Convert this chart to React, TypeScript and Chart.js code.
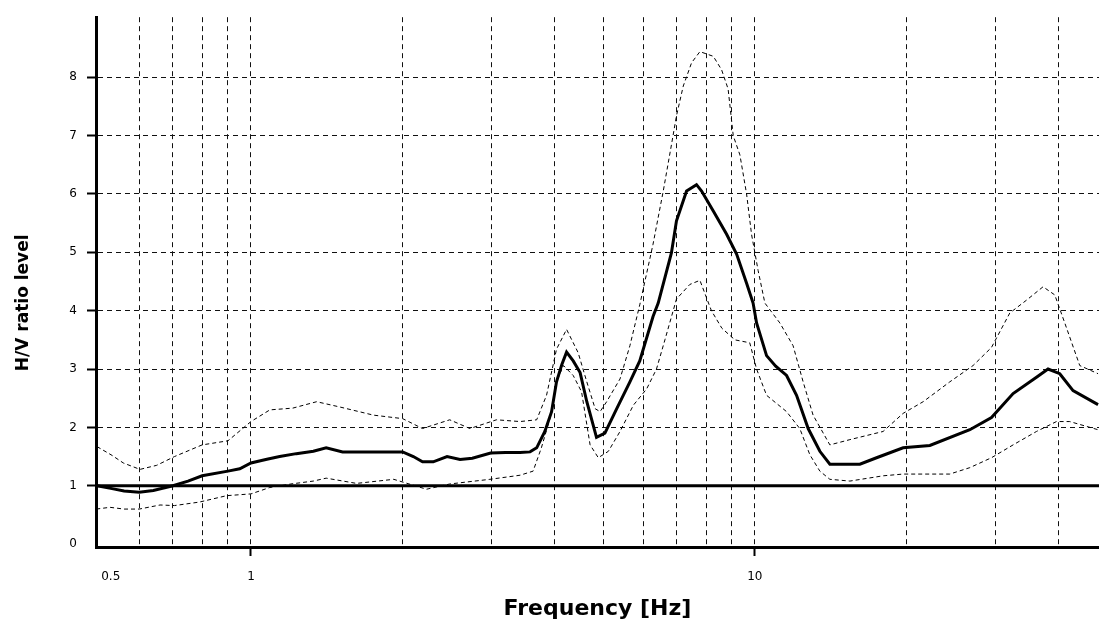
import { useEffect, useRef } from 'react';
import { Chart, registerables } from 'chart.js';

Chart.register(...registerables);

// Axis ranges
const X_MIN = 0.4925;
const X_MAX = 48.2;
const Y_MIN = -0.05;
const Y_MAX = 9.03;
const REF_LEVEL = 1;

// Tick / grid positions
const X_GRID_TICKS = [0.5, 0.6, 0.7, 0.8, 0.9, 1, 2, 3, 4, 5, 6, 7, 8, 9, 10, 20, 30, 40];
const X_LABELED = [0.5, 1, 10];
const Y_TICKS = [0, 1, 2, 3, 4, 5, 6, 7, 8];

// Average H/V curve
const meanFreq = [0.495, 0.53, 0.56, 0.60, 0.64, 0.70, 0.75, 0.80, 0.90, 0.95, 1.0, 1.07, 1.14, 1.23, 1.33, 1.41, 1.52, 1.75, 2.0, 2.10, 2.19, 2.30, 2.45, 2.60, 2.75, 2.99, 3.20, 3.42, 3.58, 3.69, 3.83, 3.95, 4.04, 4.14, 4.23, 4.36, 4.50, 4.64, 4.85, 5.04, 5.32, 5.65, 5.91, 6.28, 6.43, 6.83, 6.99, 7.32, 7.66, 7.84, 8.27, 8.79, 9.20, 9.63, 9.92, 10.08, 10.55, 11.0, 11.56, 12.10, 12.76, 13.46, 14.09, 16.16, 17.44, 19.69, 22.25, 26.71, 29.49, 32.55, 36.22, 38.19, 40.29, 42.81, 47.99];
const meanHV = [1.0, 0.95, 0.91, 0.89, 0.92, 1.0, 1.08, 1.17, 1.25, 1.29, 1.39, 1.45, 1.50, 1.55, 1.59, 1.65, 1.58, 1.58, 1.58, 1.50, 1.41, 1.41, 1.50, 1.45, 1.47, 1.56, 1.57, 1.57, 1.58, 1.65, 1.93, 2.27, 2.78, 3.08, 3.29, 3.14, 2.94, 2.44, 1.83, 1.90, 2.32, 2.78, 3.14, 3.90, 4.13, 4.99, 5.54, 6.05, 6.16, 6.05, 5.71, 5.31, 4.97, 4.47, 4.13, 3.79, 3.23, 3.05, 2.89, 2.55, 1.98, 1.59, 1.37, 1.37, 1.48, 1.65, 1.69, 1.96, 2.17, 2.58, 2.86, 3.0, 2.92, 2.63, 2.39];

// Upper (+std) curve
const upperFreq = [0.495, 0.53, 0.558, 0.602, 0.65, 0.705, 0.80, 0.90, 1.0, 1.09, 1.21, 1.35, 1.50, 1.75, 2.0, 2.19, 2.48, 2.72, 3.07, 3.42, 3.69, 3.86, 4.04, 4.23, 4.46, 4.64, 4.82, 4.93, 5.08, 5.40, 5.65, 5.91, 6.28, 6.58, 6.83, 6.99, 7.21, 7.49, 7.78, 8.27, 8.59, 8.85, 9.06, 9.34, 9.63, 9.85, 10.15, 10.47, 11.21, 11.91, 12.47, 13.05, 14.09, 15.44, 17.97, 19.69, 21.58, 24.37, 27.11, 29.49, 32.06, 34.60, 37.33, 39.38, 41.22, 44.14, 47.99];
const upperHV = [1.67, 1.52, 1.39, 1.28, 1.35, 1.50, 1.70, 1.77, 2.10, 2.30, 2.33, 2.44, 2.35, 2.21, 2.15, 1.98, 2.13, 1.98, 2.13, 2.10, 2.13, 2.55, 3.34, 3.68, 3.28, 2.78, 2.32, 2.27, 2.44, 2.83, 3.40, 4.10, 5.14, 6.05, 6.84, 7.34, 7.85, 8.25, 8.44, 8.36, 8.13, 7.80, 7.00, 6.67, 6.00, 5.31, 4.69, 4.13, 3.79, 3.40, 2.78, 2.21, 1.70, 1.79, 1.93, 2.24, 2.44, 2.78, 3.06, 3.37, 3.96, 4.18, 4.41, 4.27, 3.79, 3.06, 2.92];

// Lower (-std) curve
const lowerFreq = [0.493, 0.525, 0.56, 0.60, 0.66, 0.705, 0.79, 0.895, 1.0, 1.09, 1.20, 1.33, 1.41, 1.62, 1.92, 2.23, 2.48, 2.98, 3.42, 3.63, 3.77, 3.92, 4.04, 4.17, 4.36, 4.53, 4.71, 4.89, 5.12, 5.40, 5.74, 6.10, 6.38, 6.63, 6.99, 7.43, 7.78, 8.20, 8.60, 9.13, 9.77, 10.08, 10.55, 11.56, 12.28, 12.86, 13.46, 14.09, 15.44, 17.97, 19.69, 24.37, 26.71, 29.49, 32.55, 36.22, 39.69, 42.17, 47.99];
const lowerHV = [0.60, 0.63, 0.60, 0.60, 0.67, 0.66, 0.72, 0.83, 0.86, 0.97, 1.03, 1.08, 1.13, 1.04, 1.11, 0.94, 1.03, 1.11, 1.18, 1.25, 1.65, 2.15, 2.78, 3.06, 2.89, 2.61, 1.70, 1.48, 1.59, 1.93, 2.38, 2.66, 3.00, 3.50, 4.20, 4.45, 4.52, 4.00, 3.70, 3.50, 3.45, 3.00, 2.55, 2.27, 1.98, 1.53, 1.25, 1.11, 1.08, 1.17, 1.20, 1.20, 1.31, 1.48, 1.70, 1.93, 2.10, 2.10, 1.96];

const FONT = '"DejaVu Sans", Verdana, sans-serif';

const pts = (xs: number[], ys: number[]) => xs.map((x, i) => ({ x, y: ys[i] }));
const near = (a: number, b: number) => Math.abs(a - b) < 1e-9;

export default function App() {
  const ref = useRef<HTMLCanvasElement>(null);

  useEffect(() => {
    const canvas = ref.current;
    if (!canvas) return;
    const chart = new Chart(canvas, {
      type: 'line',
      data: {
        datasets: [
          {
            label: 'H/V',
            data: pts(meanFreq, meanHV),
            borderColor: '#000',
            borderWidth: 3,
            pointRadius: 0,
            tension: 0,
            fill: false,
            order: 0,
          },
          {
            label: 'level 1',
            data: [{ x: X_MIN, y: REF_LEVEL }, { x: X_MAX, y: REF_LEVEL }],
            borderColor: '#000',
            borderWidth: 3,
            pointRadius: 0,
            fill: false,
            order: 1,
          },
          {
            label: 'upper',
            data: pts(upperFreq, upperHV),
            borderColor: '#000',
            borderWidth: 1,
            borderDash: [4, 3],
            pointRadius: 0,
            tension: 0,
            fill: false,
            order: 2,
          },
          {
            label: 'lower',
            data: pts(lowerFreq, lowerHV),
            borderColor: '#000',
            borderWidth: 1,
            borderDash: [4, 3],
            pointRadius: 0,
            tension: 0,
            fill: false,
            order: 3,
          },
        ],
      },
      options: {
        animation: false,
        responsive: true,
        maintainAspectRatio: false,
        events: [],
        layout: { padding: { top: 10, left: 0, right: 0, bottom: 0 } },
        plugins: {
          legend: { display: false },
          tooltip: { enabled: false },
        },
        scales: {
          x: {
            type: 'logarithmic',
            min: X_MIN,
            max: X_MAX,
            afterBuildTicks: (s: any) => {
              s.ticks = X_GRID_TICKS.map((v) => ({ value: v }));
            },
            afterFit: (s: any) => {
              s.height = 87;
            },
            ticks: {
              autoSkip: false,
              maxRotation: 0,
              minRotation: 0,
              padding: 14,
              color: '#000',
              font: { family: FONT, size: 12 },
              callback: (v: any) => {
                const n = Number(v);
                if (!X_LABELED.some((l) => near(l, n))) return '';
                return near(n, 0.5) ? '      0.5' : String(n);
              },
            },
            grid: {
              color: (ctx: any) =>
                ctx.tick && !near(ctx.tick.value, 0.5) ? '#111' : 'rgba(0,0,0,0)',
              lineWidth: 1,
              tickLength: 9,
              tickWidth: 2,
              tickColor: (ctx: any) =>
                ctx.tick && (near(ctx.tick.value, 1) || near(ctx.tick.value, 10)) ? '#000' : 'rgba(0,0,0,0)',
            },
            border: { display: true, color: '#000', width: 3, dash: [5, 4] },
            title: {
              display: true,
              text: 'Frequency [Hz]',
              color: '#000',
              font: { family: FONT, size: 22, weight: 'bold' },
              padding: { top: 0, bottom: 12 },
            },
          },
          y: {
            type: 'linear',
            min: Y_MIN,
            max: Y_MAX,
            afterBuildTicks: (s: any) => {
              s.ticks = Y_TICKS.map((v) => ({ value: v }));
            },
            afterFit: (s: any) => {
              s.width = 96;
            },
            ticks: {
              padding: 10,
              color: '#000',
              font: { family: FONT, size: 12 },
              callback: (v: any) => String(v),
            },
            grid: {
              color: (ctx: any) => (ctx.tick && ctx.tick.value > 0 ? '#111' : 'rgba(0,0,0,0)'),
              lineWidth: 1,
              tickLength: 9,
              tickWidth: 2,
              tickColor: (ctx: any) => (ctx.tick && ctx.tick.value > 0 ? '#000' : 'rgba(0,0,0,0)'),
            },
            border: { display: true, color: '#000', width: 3, dash: [5, 4] },
            title: {
              display: true,
              text: 'H/V ratio level       ',
              color: '#000',
              font: { family: FONT, size: 17, weight: 'bold' },
              padding: { top: 13, bottom: 0 },
            },
          },
        },
      },
    });
    return () => chart.destroy();
  }, []);

  return (
    <div
      style={{
        position: 'fixed',
        left: 0,
        top: 0,
        width: 1099,
        height: 634,
        background: '#fff',
      }}
    >
      <canvas ref={ref} />
    </div>
  );
}
